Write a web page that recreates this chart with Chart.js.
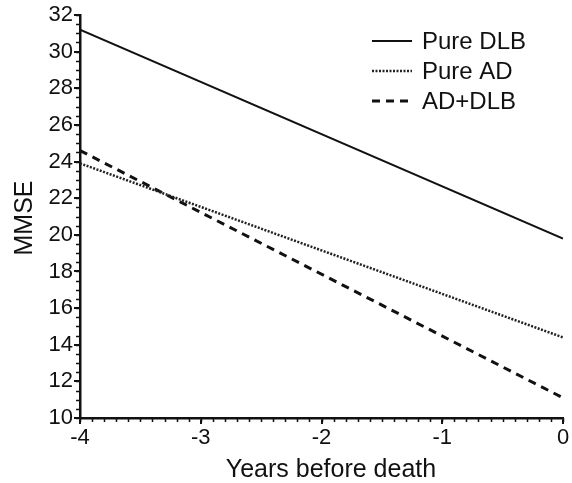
<!DOCTYPE html>
<html>
<head>
<meta charset="utf-8">
<script src="https://cdn.jsdelivr.net/npm/chart.js@4"></script>
<style>
  html, body { margin: 0; padding: 0; background: #fff; }
  #wrap { width: 572px; height: 483px; }
</style>
</head>
<body>
<div id="wrap"><canvas id="mmse"></canvas></div>
<script>
const years = [-4, 0];
const pureDLB = [31.2, 19.8];
const pureAD = [23.9, 14.4];
const adDLB = [24.6, 11.1];

const yTicks = [10, 12, 14, 16, 18, 20, 22, 24, 26, 28, 30, 32];
const xTicks = [-4, -3, -2, -1, 0];

const font = 'Liberation Sans, Arial, sans-serif';

function points(values) {
    return years.map((x, i) => ({ x: x, y: values[i] }));
}

// small ticks between the labelled ones, axis titles and the legend
const extras = {
    id: 'extras',
    afterDraw(chart) {
        const ctx = chart.ctx;
        const xs = chart.scales.x;
        const ys = chart.scales.y;
        const area = chart.chartArea;
        ctx.save();
        ctx.strokeStyle = '#111';
        ctx.lineWidth = 1.5;
        ctx.beginPath();
        for (let v = -4; v <= 0.001; v += 0.1) {
            const px = Math.round(xs.getPixelForValue(v)) + 0.5;
            ctx.moveTo(px, area.bottom);
            ctx.lineTo(px, area.bottom + 4);
        }
        for (let v = 10; v <= 32.001; v += 0.5) {
            const py = Math.round(ys.getPixelForValue(v)) + 0.5;
            ctx.moveTo(area.left, py);
            ctx.lineTo(area.left - 4, py);
        }
        ctx.stroke();

        ctx.fillStyle = '#111';
        ctx.textAlign = 'center';
        ctx.font = '25px ' + font;
        ctx.textBaseline = 'alphabetic';
        ctx.fillText('Years before death', 331, 477);

        ctx.textBaseline = 'middle';
        ctx.translate(25, 218);
        ctx.rotate(-Math.PI / 2);
        ctx.fillText('MMSE', 0, 0);
        ctx.restore();

        // legend
        ctx.save();
        ctx.font = '24px ' + font;
        ctx.textBaseline = 'middle';
        ctx.fillStyle = '#111';
        chart.data.datasets.forEach((ds, i) => {
            const y = 41 + i * 30;
            ctx.strokeStyle = ds.borderColor;
            ctx.lineWidth = ds.borderWidth;
            ctx.setLineDash(ds.borderDash || []);
            ctx.beginPath();
            ctx.moveTo(372, y);
            ctx.lineTo(412, y);
            ctx.stroke();
            ctx.fillText(ds.label, 422, y + 1);
        });
        ctx.restore();
    }
};

new Chart(document.getElementById('mmse'), {
    type: 'line',
    data: {
        datasets: [
            {
                label: 'Pure DLB',
                data: points(pureDLB),
                borderColor: '#111',
                borderWidth: 2,
                pointRadius: 0
            },
            {
                label: 'Pure AD',
                data: points(pureAD),
                borderColor: '#222',
                borderWidth: 2.5,
                borderDash: [2, 1.5],
                pointRadius: 0
            },
            {
                label: 'AD+DLB',
                data: points(adDLB),
                borderColor: '#111',
                borderWidth: 3,
                borderDash: [8, 6],
                pointRadius: 0
            }
        ]
    },
    options: {
        responsive: true,
        maintainAspectRatio: false,
        animation: false,
        layout: { padding: { top: 15, right: 9, left: 0, bottom: 0 } },
        plugins: {
            legend: { display: false },
            tooltip: { enabled: false }
        },
        scales: {
            x: {
                type: 'linear',
                min: -4,
                max: 0,
                afterBuildTicks: (axis) => { axis.ticks = xTicks.map(v => ({ value: v })); },
                afterFit: (axis) => { axis.height = 65; },
                border: { display: true, color: '#111', width: 2.5 },
                grid: { drawOnChartArea: false, drawTicks: true, tickLength: 6, color: '#111', lineWidth: 2 },
                ticks: { color: '#111', font: { size: 22, family: font }, padding: 1 }
            },
            y: {
                min: 10,
                max: 32,
                afterBuildTicks: (axis) => { axis.ticks = yTicks.map(v => ({ value: v })); },
                afterFit: (axis) => { axis.width = 80; },
                border: { display: true, color: '#111', width: 2.5 },
                grid: { drawOnChartArea: false, drawTicks: true, tickLength: 6, color: '#111', lineWidth: 2 },
                ticks: { color: '#111', font: { size: 22, family: font }, padding: 1 }
            }
        }
    },
    plugins: [extras]
});
</script>
</body>
</html>
